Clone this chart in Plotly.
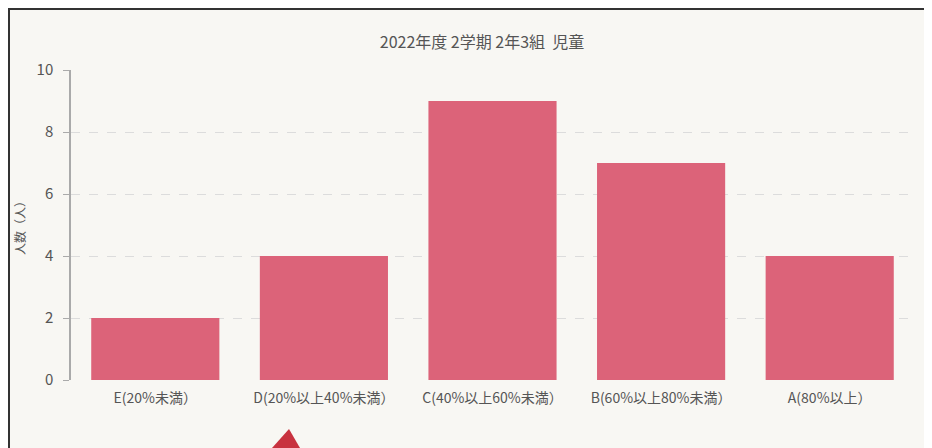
import plotly.graph_objects as go

categories = ["E(20%未満）", "D(20%以上40%未満）", "C(40%以上60%未満）", "B(60%以上80%未満）", "A(80%以上）"]
counts = [2, 4, 9, 7, 4]
y_ticks = [0, 2, 4, 6, 8, 10]

# page body has an 8px margin, so the figure is sized to the visible area
W, H = 924, 440
L, R, T, B = 63, 18, 62, 68
pw, ph = W - L - R, H - T - B


def px(x):
    return (x - L) / pw


def py(y):
    return (H - B - y) / ph


fig = go.Figure()
fig.add_trace(go.Bar(x=categories, y=counts, marker=dict(color="#dc6379", line=dict(width=0))))

# scan frame and the red pointer below the chart
shapes = [
    dict(type="line", xref="paper", yref="paper", x0=px(0), x1=px(W), y0=py(1), y1=py(1),
         line=dict(color="#333333", width=2)),
    dict(type="line", xref="paper", yref="paper", x0=px(1), x1=px(1), y0=py(0), y1=py(H),
         line=dict(color="#333333", width=2)),
    dict(type="path", xref="paper", yref="paper",
         path=f"M {px(281)} {py(421)} L {px(264)} {py(440)} L {px(292)} {py(440)} Z",
         fillcolor="#c8323f", line=dict(width=0)),
]

fig.update_layout(
    width=W,
    height=H,
    margin=dict(l=L, r=R, t=T, b=B),
    paper_bgcolor="#f8f7f3",
    plot_bgcolor="#f8f7f3",
    font=dict(family="Noto Sans CJK JP", color="#555555"),
    title=dict(text="2022年度 2学期 2年3組  児童", x=px(474), xanchor="center", xref="paper",
               y=1 - 34 / H, yanchor="middle", font=dict(size=16, color="#555555")),
    bargap=0.24,
    showlegend=False,
    shapes=shapes,
)
fig.update_xaxes(
    showline=False,
    showgrid=False,
    tickfont=dict(size=14, color="#555555"),
    ticks="",
    ticklabelstandoff=8,
)
fig.update_yaxes(
    range=[0, 10],
    tickvals=y_ticks,
    showline=True,
    linecolor="#aaaaaa",
    linewidth=1.5,
    ticks="outside",
    ticklen=6,
    tickcolor="#aaaaaa",
    ticklabelstandoff=7,
    showgrid=True,
    gridcolor="#dcdcdc",
    griddash="dash",
    gridwidth=1,
    zeroline=False,
    tickfont=dict(size=15, color="#555555"),
    title=dict(text="人数（人）", font=dict(size=12, color="#555555"), standoff=8),
)

fig.write_html("out.html")
